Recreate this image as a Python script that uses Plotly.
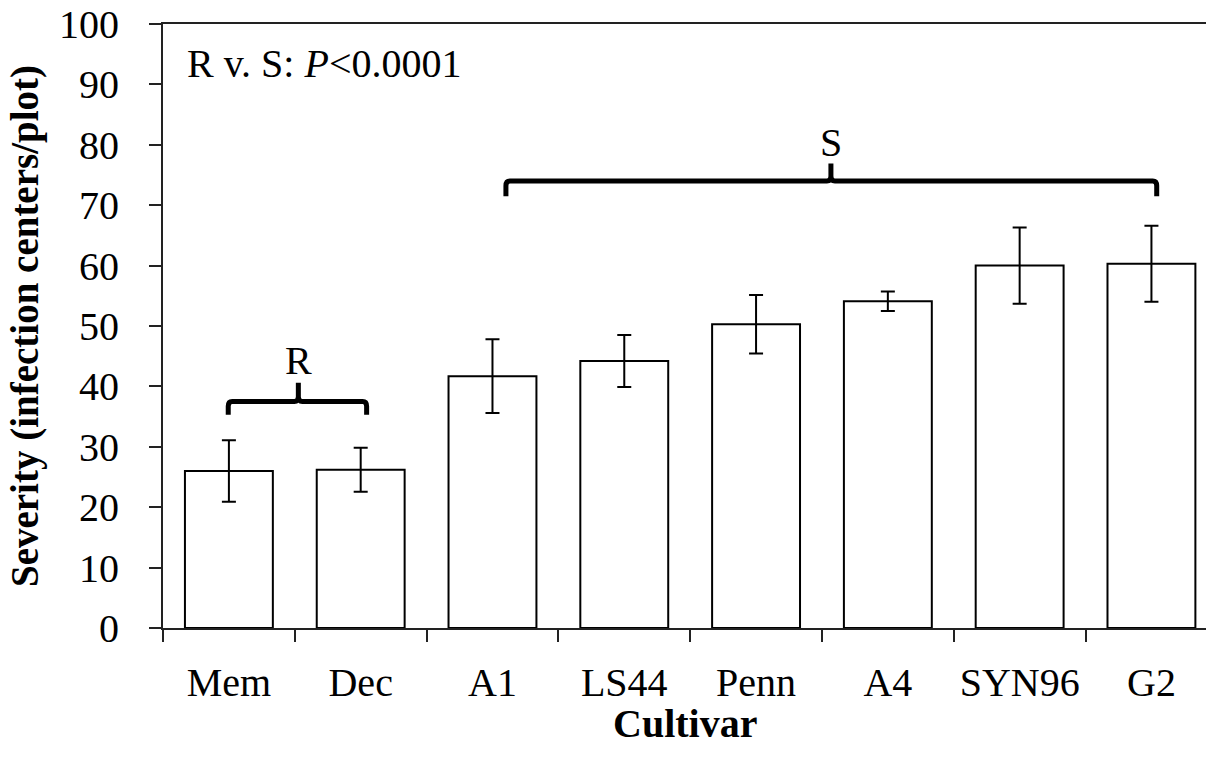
import plotly.graph_objects as go

cultivars = ["Mem", "Dec", "A1", "LS44", "Penn", "A4", "SYN96", "G2"]
severity = [26.0, 26.2, 41.7, 44.2, 50.3, 54.1, 60.0, 60.3]
sem = [5.1, 3.65, 6.1, 4.3, 4.85, 1.6, 6.3, 6.3]
y_ticks = list(range(0, 101, 10))

FONT = "Liberation Serif"

fig = go.Figure()
fig.add_trace(go.Bar(
    x=cultivars, y=severity, width=0.667,
    marker=dict(color="white", line=dict(color="black", width=2)),
    error_y=dict(type="data", array=sem, visible=True, color="black", thickness=2, width=7),
    showlegend=False,
))


def brace(xl, xr, xm, yline, ybot, ypeak, dx=0.03, dy=0.8):
    return (f"M {xl},{ybot} L {xl},{yline-dy} Q {xl},{yline} {xl+dx},{yline} "
            f"L {xm-dx},{yline} Q {xm},{yline} {xm},{yline+dy} L {xm},{ypeak} "
            f"L {xm},{yline+dy} Q {xm},{yline} {xm+dx},{yline} "
            f"L {xr-dx},{yline} Q {xr},{yline} {xr},{yline-dy} L {xr},{ybot}")


fig.add_shape(type="path", xref="x", yref="y",
              path=brace(-0.005, 1.045, 0.527, 37.5, 35.3, 40.6),
              line=dict(color="black", width=5))
fig.add_shape(type="path", xref="x", yref="y",
              path=brace(2.102, 7.04, 4.568, 74.0, 71.5, 76.9, dx=0.03, dy=0.8),
              line=dict(color="black", width=5))

fig.add_annotation(x=0.527, y=44.3, xref="x", yref="y", text="R", showarrow=False,
                   font=dict(family=FONT, size=40, color="black"), yanchor="middle")
fig.add_annotation(x=4.568, y=80.3, xref="x", yref="y", text="S", showarrow=False,
                   font=dict(family=FONT, size=40, color="black"), yanchor="middle")
fig.add_annotation(x=0.021, y=93.4, xref="paper", yref="y", xanchor="left", yanchor="middle",
                   text="R v. S: <i>P</i>&lt;0.0001", showarrow=False,
                   font=dict(family=FONT, size=40, color="black"))
fig.add_annotation(x=0.5, y=-0.158, xref="paper", yref="paper", xanchor="center", yanchor="middle",
                   text="<b>Cultivar</b>", showarrow=False,
                   font=dict(family=FONT, size=40, color="black"))

fig.update_layout(
    width=1206, height=759,
    margin=dict(l=163, r=0, t=24, b=131),
    paper_bgcolor="white", plot_bgcolor="white",
    font=dict(family=FONT, size=40, color="black"),
    bargap=0.333,
)
fig.update_xaxes(
    type="category", range=[-0.5, 7.414],
    showline=True, linecolor="#222", linewidth=2, mirror=True,
    ticks="outside", ticklen=12, tickwidth=1.5, tickcolor="#222",
    tickson="boundaries", showgrid=False,
    tickfont=dict(family=FONT, size=40, color="black"),
    ticklabelstandoff=18,
)
fig.update_yaxes(
    range=[0, 100], tickvals=y_ticks,
    showline=True, linecolor="#222", linewidth=2,
    ticks="outside", ticklen=12, tickwidth=1.5, tickcolor="#222",
    showgrid=False, zeroline=False,
    tickfont=dict(family=FONT, size=40, color="black"),
    ticklabelstandoff=22,
    title=dict(text="<b>Severity (infection centers/plot)</b>", font=dict(family=FONT, size=39, color="black"), standoff=8),
)

fig.write_html("out.html")
